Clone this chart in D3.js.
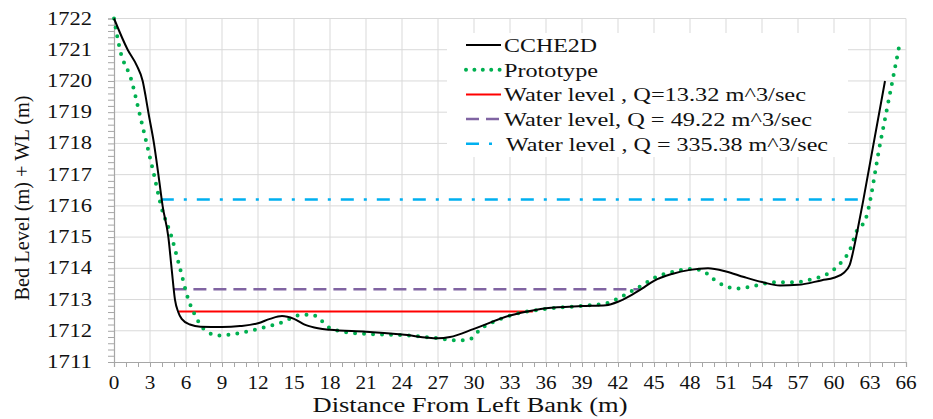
<!DOCTYPE html>
<html>
<head>
<meta charset="utf-8">
<script src="https://cdn.jsdelivr.net/npm/d3@7"></script>
<style>
  body { margin: 0; background: #fff; }
  text { font-family: "Liberation Serif", "Times New Roman", serif; fill: #111; }
</style>
</head>
<body>
<div id="chart"></div>
<script>
// distance (m) and bed level (m)
const ccheX = [0, 1.14, 1.89, 2.39, 2.64, 2.86, 3.33, 3.7, 4.05, 4.53, 4.8, 5.08, 5.35, 5.64, 6.33, 7.2, 9, 10.5, 12, 13, 14, 15, 16, 17, 18, 21, 24, 27, 28, 30, 33, 35, 36, 39, 41, 42, 43, 44, 45, 46.5, 48, 49.5, 51, 52.5, 54, 55.5, 57, 59, 60, 60.8, 61.3, 61.6, 62, 62.45, 64.25];
const ccheY = [1722, 1721, 1720.5, 1720, 1719.5, 1719, 1718, 1717, 1716, 1715, 1714, 1713, 1712.6, 1712.38, 1712.2, 1712.13, 1712.12, 1712.15, 1712.24, 1712.38, 1712.47, 1712.38, 1712.18, 1712.08, 1712.03, 1711.97, 1711.88, 1711.76, 1711.8, 1712.06, 1712.49, 1712.66, 1712.72, 1712.79, 1712.82, 1712.93, 1713.12, 1713.35, 1713.6, 1713.82, 1713.95, 1714.0, 1713.9, 1713.72, 1713.56, 1713.45, 1713.47, 1713.62, 1713.7, 1713.85, 1714.1, 1714.55, 1715.3, 1716.2, 1720];

const protoX = [0, 0.5, 1.47, 2.1, 2.72, 3.33, 3.92, 4.8, 5.5, 6.2, 6.75, 7.44, 8.7, 10.5, 12, 14, 15.5, 16.5, 17.2, 18, 19, 21, 24, 27, 28.6, 29.7, 30.5, 31.9, 33.5, 36, 39, 41, 42, 43, 44, 45, 46.5, 48, 49, 50, 51, 52, 53.5, 55, 57, 58, 59.5, 60.5, 61.3, 61.9, 62.6, 63.85, 64.87, 65.4];
const protoY = [1722, 1721, 1720, 1719, 1718, 1717, 1716, 1715, 1714, 1713, 1712.5, 1712.07, 1711.85, 1711.93, 1712.06, 1712.27, 1712.5, 1712.52, 1712.35, 1712.08, 1711.98, 1711.9, 1711.86, 1711.76, 1711.69, 1711.74, 1712.04, 1712.33, 1712.54, 1712.7, 1712.8, 1712.88, 1713.03, 1713.24, 1713.45, 1713.69, 1713.88, 1713.98, 1713.93, 1713.64, 1713.42, 1713.35, 1713.45, 1713.55, 1713.56, 1713.64, 1713.83, 1714.15, 1714.57, 1715.2, 1715.54, 1718, 1720, 1721.05];

// water levels: [start, end, level]
const wlLabels = ['Water level , Q=13.32 m^3/sec', 'Water level, Q = 49.22 m^3/sec', 'Water level , Q = 335.38 m^3/sec'];
const wlStart = [5.4, 4.95, 3.9];
const wlEnd = [34.9, 43.8, 62.5];
const wlLevel = [1712.62, 1713.33, 1716.2];

const xTicks = d3.range(0, 67, 3);
const yTicks = d3.range(1711, 1723, 1);

const W = 933, H = 419;
const svg = d3.select('#chart').append('svg')
  .attr('width', W).attr('height', H);

const x = d3.scaleLinear().domain([0, 66]).range([114, 906]);
const y = d3.scaleLinear().domain([1711, 1722]).range([362, 18.5]);

// Grid
svg.append('g').selectAll('line.v')
  .data(xTicks.slice(1)).join('line')
  .attr('x1', d => x(d)).attr('x2', d => x(d))
  .attr('y1', y(1711)).attr('y2', y(1722))
  .attr('stroke', '#d9d9d9').attr('stroke-width', 1);
svg.append('g').selectAll('line.h')
  .data(yTicks.slice(1)).join('line')
  .attr('x1', x(0)).attr('x2', x(66))
  .attr('y1', d => y(d)).attr('y2', d => y(d))
  .attr('stroke', '#d9d9d9').attr('stroke-width', 1);

// Axes with minor ticks
const xAxis = svg.append('g')
  .attr('transform', `translate(0,${y(1711)})`)
  .call(d3.axisBottom(x).tickValues(d3.range(0, 67, 1)).tickSize(5).tickFormat(''));
const yAxis = svg.append('g')
  .attr('transform', `translate(${x(0)},0)`)
  .call(d3.axisLeft(y).tickValues(d3.range(1711, 1722.01, 0.2)).tickSize(6).tickFormat(''));
[xAxis, yAxis].forEach(a => {
  a.selectAll('path, line').attr('stroke', '#a6a6a6');
  a.select('.domain').attr('stroke-width', 1.2);
});

// Tick labels
svg.append('g').selectAll('text')
  .data(xTicks).join('text')
  .attr('x', d => x(d)).attr('y', 389)
  .attr('text-anchor', 'middle')
  .attr('font-size', 18)
  .attr('textLength', d => String(d).length * 10.6)
  .attr('lengthAdjust', 'spacingAndGlyphs')
  .text(d => d);
svg.append('g').selectAll('text')
  .data(yTicks).join('text')
  .attr('x', 92).attr('y', d => y(d) + 6)
  .attr('text-anchor', 'end')
  .attr('font-size', 18)
  .attr('textLength', 45)
  .attr('lengthAdjust', 'spacingAndGlyphs')
  .text(d => d);

// Axis titles
svg.append('text')
  .attr('x', 470).attr('y', 412)
  .attr('text-anchor', 'middle')
  .attr('font-size', 20)
  .attr('textLength', 315)
  .attr('lengthAdjust', 'spacingAndGlyphs')
  .text('Distance From Left Bank (m)');
svg.append('text')
  .attr('transform', 'translate(29,198) rotate(-90)')
  .attr('text-anchor', 'middle')
  .attr('font-size', 20)
  .attr('textLength', 205)
  .attr('lengthAdjust', 'spacingAndGlyphs')
  .text('Bed  Level (m) + WL (m)');

// Legend box (covers grid)
svg.append('rect')
  .attr('x', 447).attr('y', 33).attr('width', 401).attr('height', 124)
  .attr('fill', '#fff');

// Series styles
const wlStyles = [
  { color: '#ff0000', dash: null, width: 2 },
  { color: '#8064a2', dash: '13,7', width: 2.5 },
  { color: '#00b0f0', dash: '13,10,3,10', width: 2.5 }
];

const line = d3.line()
  .x(d => x(d[0]))
  .y(d => y(d[1]))
  .curve(d3.curveMonotoneX);

// Water level lines
wlLevel.forEach((lv, i) => {
  svg.append('line')
    .attr('x1', x(wlStart[i])).attr('x2', x(wlEnd[i]))
    .attr('y1', y(lv)).attr('y2', y(lv))
    .attr('stroke', wlStyles[i].color)
    .attr('stroke-width', wlStyles[i].width)
    .attr('stroke-dasharray', wlStyles[i].dash);
});

// Prototype (dotted)
svg.append('path')
  .datum(protoX.map((d, i) => [d, protoY[i]]))
  .attr('d', line)
  .attr('fill', 'none')
  .attr('stroke', '#00b050')
  .attr('stroke-width', 4)
  .attr('stroke-linecap', 'round')
  .attr('stroke-dasharray', '0,9');

// CCHE2D
svg.append('path')
  .datum(ccheX.map((d, i) => [d, ccheY[i]]))
  .attr('d', line)
  .attr('fill', 'none')
  .attr('stroke', '#000')
  .attr('stroke-width', 2);

// Legend entries
const legendItems = [
  { label: 'CCHE2D', color: '#000', dash: null, width: 2, cap: 'butt', len: 93 },
  { label: 'Prototype', color: '#00b050', dash: '0,8.4', width: 4, cap: 'round', len: 94 },
  { label: wlLabels[0], ...wlStyles[0], cap: 'butt', len: 302 },
  { label: wlLabels[1], ...wlStyles[1], cap: 'butt', len: 308 },
  { label: wlLabels[2], ...wlStyles[2], cap: 'butt', len: 322 }
];
const lg = svg.append('g');
legendItems.forEach((it, i) => {
  const cy = 45 + i * 24.7;
  lg.append('line')
    .attr('x1', 466).attr('x2', 501)
    .attr('y1', cy).attr('y2', cy)
    .attr('stroke', it.color)
    .attr('stroke-width', it.width)
    .attr('stroke-linecap', it.cap)
    .attr('stroke-dasharray', it.dash);
  lg.append('text')
    .attr('x', i === 4 ? 506 : 504).attr('y', cy + 7)
    .attr('font-size', 19)
    .attr('textLength', it.len)
    .attr('lengthAdjust', 'spacingAndGlyphs')
    .text(it.label);
});
</script>
</body>
</html>
